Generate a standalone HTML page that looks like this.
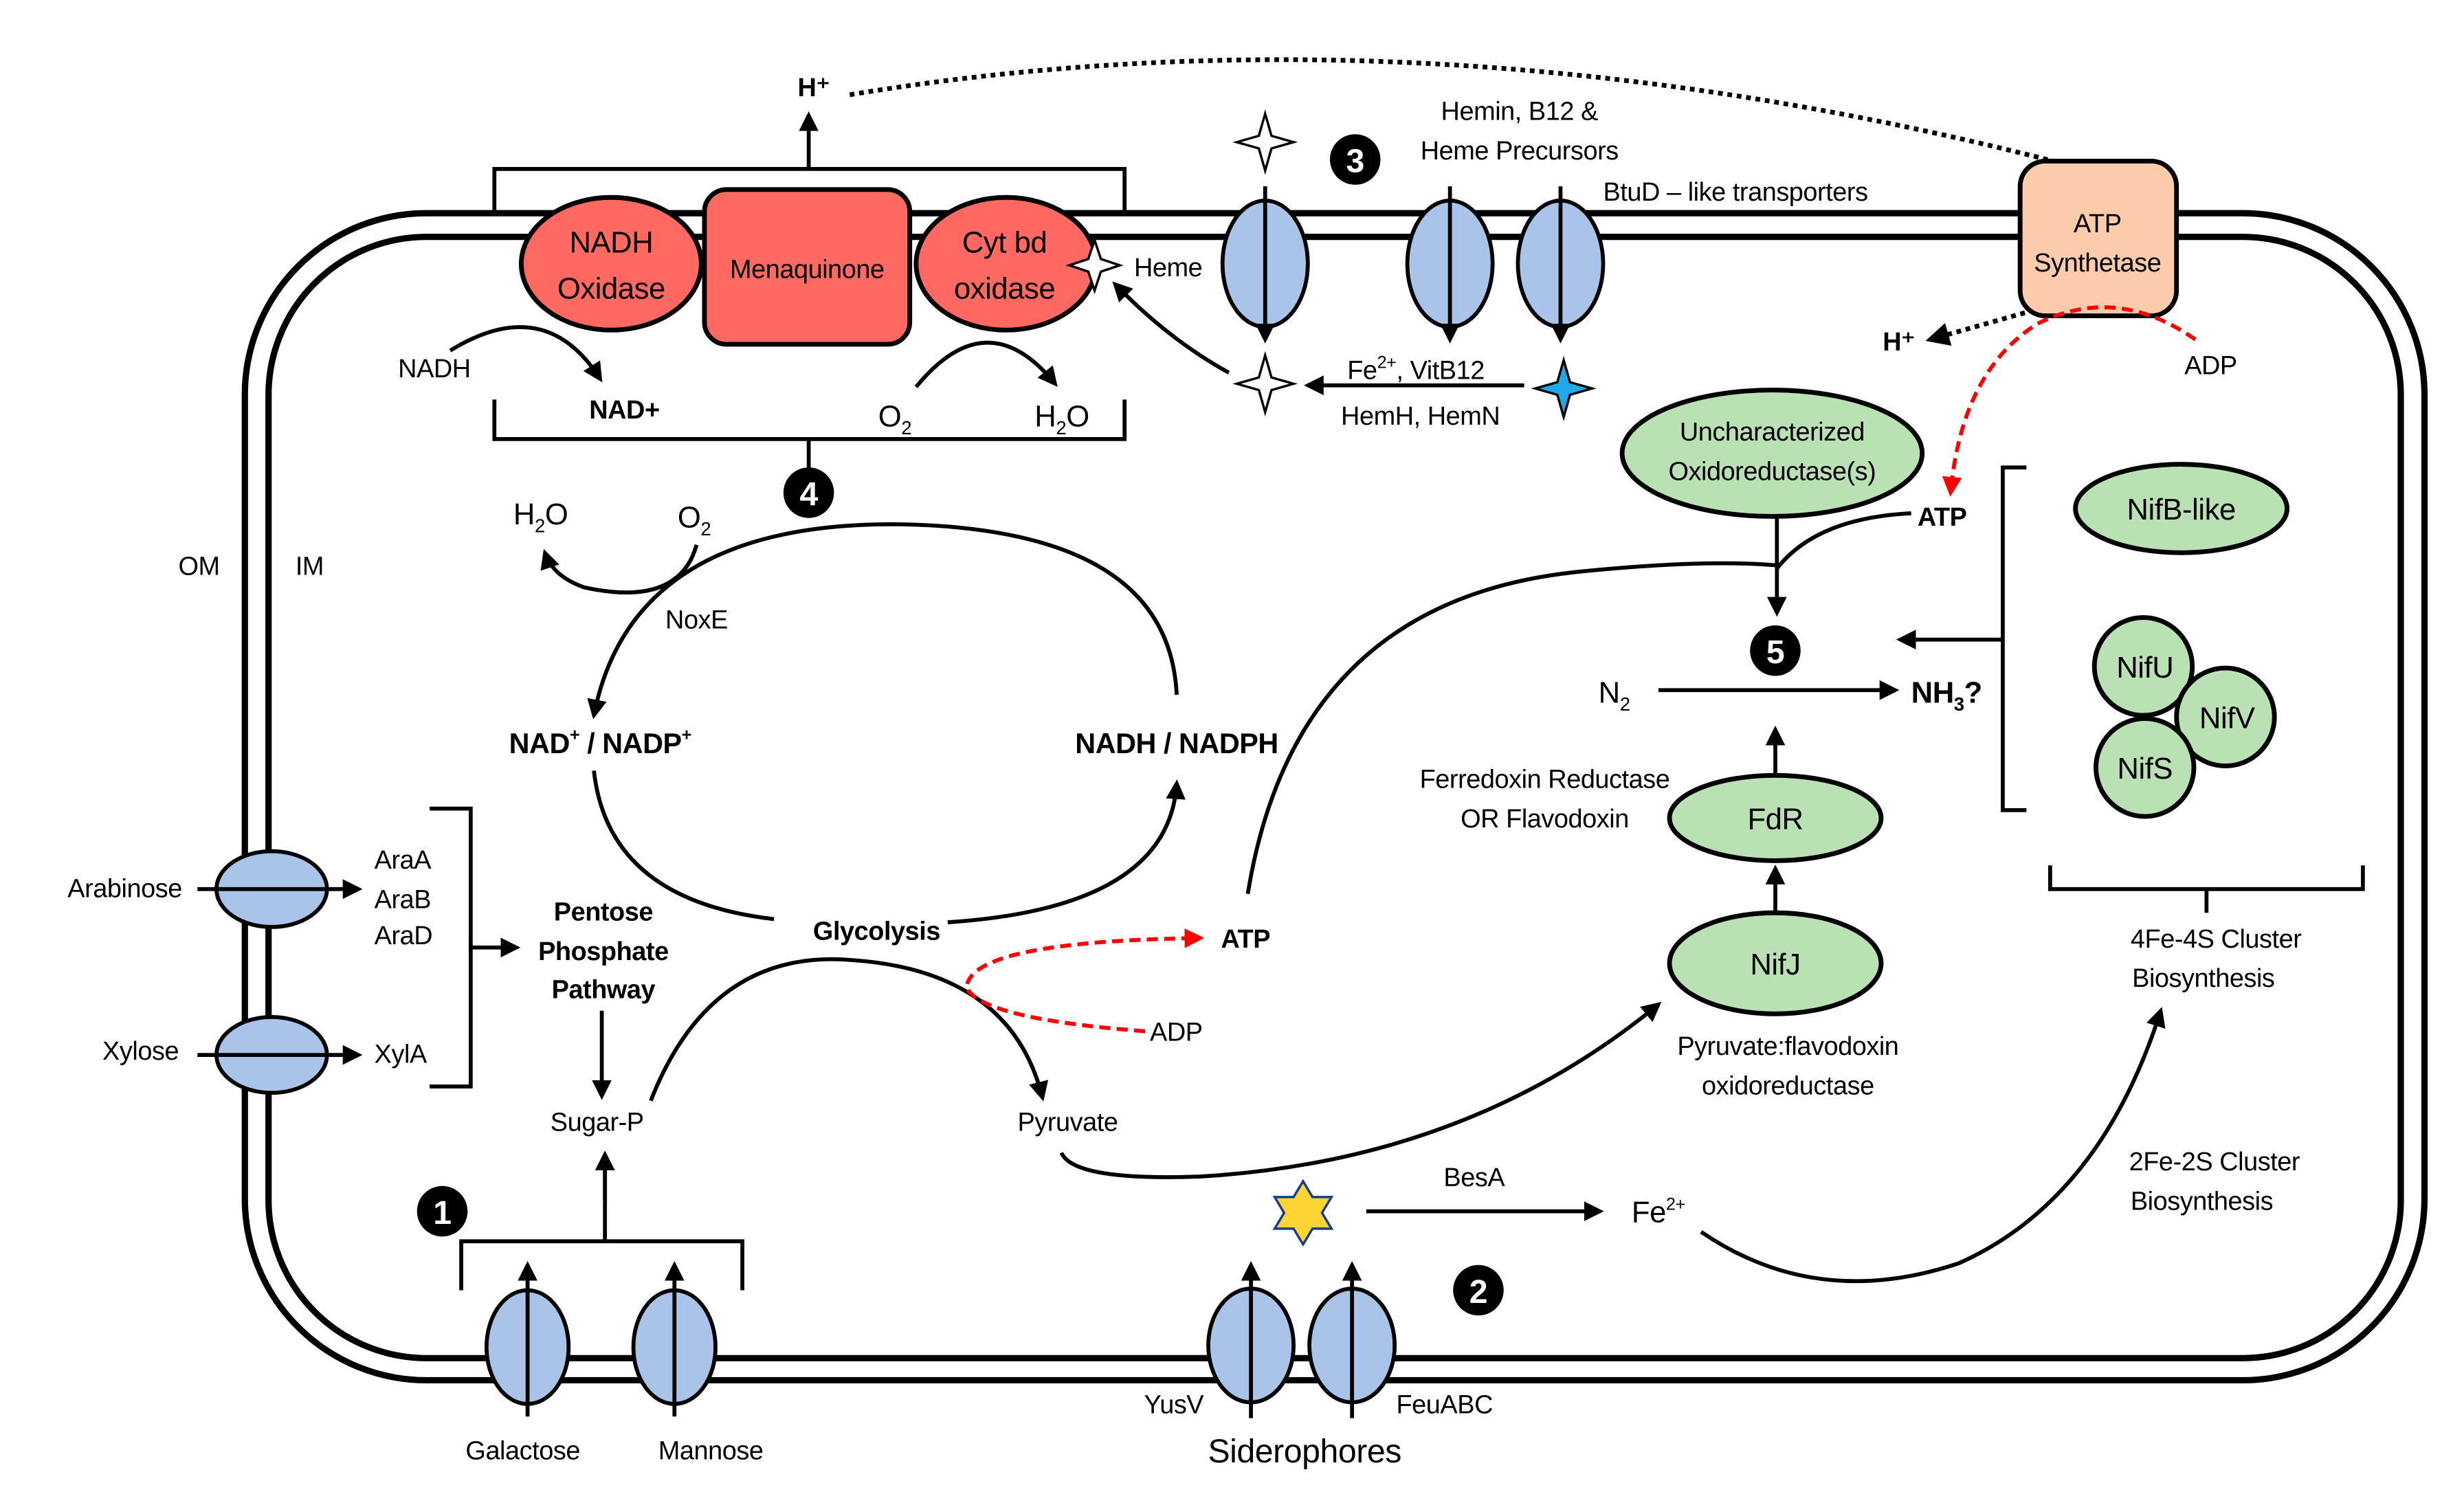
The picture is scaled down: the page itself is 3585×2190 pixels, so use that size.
<!DOCTYPE html>
<html><head><meta charset="utf-8">
<style>
html,body{margin:0;padding:0;background:#fff;}
svg{display:block;}
text{font-family:"Liberation Sans",sans-serif;font-size:16.5px;fill:#000;letter-spacing:-0.2px;}
.b{font-weight:bold;}
</style></head>
<body>
<svg width="3585" height="2190" viewBox="0 0 1560 953" xmlns="http://www.w3.org/2000/svg">
<defs>
<marker id="a" viewBox="0 0 10 10" refX="8" refY="5" markerWidth="5" markerHeight="5" orient="auto-start-reverse"><path d="M0,0L10,5L0,10z" fill="#000"/></marker>
<marker id="r" viewBox="0 0 10 10" refX="8" refY="5" markerWidth="5" markerHeight="5" orient="auto"><path d="M0,0L10,5L0,10z" fill="#f00"/></marker>
</defs>
<rect x="155" y="135" width="1380" height="739" rx="115" fill="none" stroke="#000" stroke-width="4"/>
<rect x="170" y="150" width="1350" height="710" rx="100" fill="none" stroke="#000" stroke-width="4"/>

<path d="M538,60 Q900,0 1300,102" fill="none" stroke="#000" stroke-width="3" stroke-dasharray="3,3"/>
<text x="505" y="61" class="b">H⁺</text>
<line x1="512" y1="107" x2="512" y2="73" stroke="#000" stroke-width="2.5" marker-end="url(#a)"/>
<path d="M313,133V107H712V133" fill="none" stroke="#000" stroke-width="2.5"/>

<ellipse cx="387" cy="167" rx="57" ry="42" fill="#ff6961" stroke="#000" stroke-width="3"/>
<text x="387" y="160" text-anchor="middle" style="font-size:19px">NADH</text>
<text x="387" y="189" text-anchor="middle" style="font-size:19px">Oxidase</text>
<rect x="446" y="120" width="130" height="98" rx="14" fill="#ff6961" stroke="#000" stroke-width="3"/>
<text x="511" y="176" text-anchor="middle">Menaquinone</text>
<ellipse cx="637" cy="167" rx="57" ry="42" fill="#ff6961" stroke="#000" stroke-width="3"/>
<text x="636" y="160" text-anchor="middle" style="font-size:19px">Cyt bd</text>
<text x="636" y="189" text-anchor="middle" style="font-size:19px">oxidase</text>
<path d="M693,152 L697,164 L709,168 L697,172 L693,184 L689,172 L677,168 L689,164Z" fill="#fff" stroke="#000" stroke-width="1.5"/>
<text x="718" y="175">Heme</text>

<text x="252" y="239">NADH</text>
<path d="M285,222 Q345,185 380,240" fill="none" stroke="#000" stroke-width="2.5" marker-end="url(#a)"/>
<text x="373" y="265" class="b">NAD+</text>
<path d="M580,245 Q625,190 668,243" fill="none" stroke="#000" stroke-width="2.5" marker-end="url(#a)"/>
<text x="556" y="270" style="font-size:19px">O<tspan style="font-size:12px" dy="5">2</tspan></text>
<text x="655" y="270" style="font-size:19px">H<tspan style="font-size:12px" dy="5">2</tspan><tspan dy="-5">O</tspan></text>
<path d="M313,253V278H712V253M512,278V297" fill="none" stroke="#000" stroke-width="2.5"/>
<circle cx="512" cy="312" r="16" fill="#000"/><text x="512" y="320" text-anchor="middle" style="fill:#fff;font-size:21px" class="b">4</text>

<g fill="#a9c4e8" stroke="#000" stroke-width="2.5">
<ellipse cx="801" cy="167" rx="27" ry="40"/><ellipse cx="918" cy="167" rx="27" ry="40"/><ellipse cx="988" cy="167" rx="27" ry="40"/>
</g>
<g stroke="#000" stroke-width="2.5">
<line x1="801" y1="118" x2="801" y2="215" marker-end="url(#a)"/>
<line x1="918" y1="118" x2="918" y2="215" marker-end="url(#a)"/>
<line x1="988" y1="118" x2="988" y2="215" marker-end="url(#a)"/>
</g>
<path d="M801,72 L805,86 L819,90 L805,94 L801,108 L797,94 L783,90 L797,86Z" fill="#fff" stroke="#000" stroke-width="1.5"/>
<path d="M801,225 L805,239 L819,243 L805,247 L801,261 L797,247 L783,243 L797,239Z" fill="#fff" stroke="#000" stroke-width="1.5"/>
<path d="M990,228 L994,242 L1008,246 L994,250 L990,264 L986,250 L972,246 L986,242Z" fill="#1ea9e8" stroke="#000" stroke-width="1.5"/>
<circle cx="858" cy="101" r="16" fill="#000"/><text x="858" y="109" text-anchor="middle" style="fill:#fff;font-size:21px" class="b">3</text>
<text x="962" y="76" text-anchor="middle">Hemin, B12 &amp;</text>
<text x="962" y="101" text-anchor="middle">Heme Precursors</text>
<text x="1015" y="127">BtuD – like transporters</text>
<line x1="965" y1="244" x2="828" y2="244" stroke="#000" stroke-width="2.5" marker-end="url(#a)"/>
<text x="853" y="240">Fe<tspan style="font-size:11px" dy="-7">2+</tspan><tspan dy="7">, VitB12</tspan></text>
<text x="849" y="269">HemH, HemN</text>
<path d="M778,236 Q740,215 706,180" fill="none" stroke="#000" stroke-width="2.5" marker-end="url(#a)"/>

<rect x="1279" y="102" width="99" height="98" rx="16" fill="#fccbab" stroke="#000" stroke-width="3"/>
<text x="1328" y="147" text-anchor="middle">ATP</text>
<text x="1328" y="172" text-anchor="middle">Synthetase</text>
<text x="1192" y="222" class="b">H⁺</text>
<line x1="1282" y1="198" x2="1222" y2="215" stroke="#000" stroke-width="3" stroke-dasharray="3,3" marker-end="url(#a)"/>
<path d="M1390,215 Q1340,180 1290,205 Q1242,235 1235,312" fill="none" stroke="#f00" stroke-width="2.5" stroke-dasharray="7,4" marker-end="url(#r)"/>
<text x="1383" y="237">ADP</text>

<ellipse cx="1122" cy="287" rx="95" ry="40" fill="#b9e1b3" stroke="#000" stroke-width="3"/>
<text x="1122" y="279" text-anchor="middle">Uncharacterized</text>
<text x="1122" y="304" text-anchor="middle">Oxidoreductase(s)</text>
<text x="1214" y="333" class="b">ATP</text>
<path d="M1210,325 Q1150,328 1125,360" fill="none" stroke="#000" stroke-width="2.5"/>
<line x1="1125" y1="328" x2="1125" y2="388" stroke="#000" stroke-width="2.5" marker-end="url(#a)"/>
<path d="M790,566 Q820,380 1000,362 Q1080,354 1125,358" fill="none" stroke="#000" stroke-width="2.5"/>
<circle cx="1124" cy="412" r="16" fill="#000"/><text x="1124" y="420" text-anchor="middle" style="fill:#fff;font-size:21px" class="b">5</text>
<text x="1012" y="445" style="font-size:19px">N<tspan style="font-size:12px" dy="5">2</tspan></text>
<line x1="1050" y1="437" x2="1200" y2="437" stroke="#000" stroke-width="2.5" marker-end="url(#a)"/>
<text x="1210" y="445" class="b" style="font-size:19px">NH<tspan style="font-size:12px" dy="5">3</tspan><tspan dy="-5">?</tspan></text>
<ellipse cx="1124" cy="518" rx="67" ry="27" fill="#b9e1b3" stroke="#000" stroke-width="3"/>
<text x="1124" y="525" text-anchor="middle" style="font-size:19px">FdR</text>
<line x1="1124" y1="490" x2="1124" y2="462" stroke="#000" stroke-width="2.5" marker-end="url(#a)"/>
<text x="978" y="499" text-anchor="middle">Ferredoxin Reductase</text>
<text x="978" y="524" text-anchor="middle">OR Flavodoxin</text>
<ellipse cx="1124" cy="610" rx="67" ry="32" fill="#b9e1b3" stroke="#000" stroke-width="3"/>
<text x="1124" y="617" text-anchor="middle" style="font-size:19px">NifJ</text>
<line x1="1124" y1="577" x2="1124" y2="550" stroke="#000" stroke-width="2.5" marker-end="url(#a)"/>
<text x="1132" y="668" text-anchor="middle">Pyruvate:flavodoxin</text>
<text x="1132" y="693" text-anchor="middle">oxidoreductase</text>

<path d="M1283,296H1268V513H1283" fill="none" stroke="#000" stroke-width="2.5"/>
<line x1="1268" y1="405" x2="1203" y2="405" stroke="#000" stroke-width="2.5" marker-end="url(#a)"/>
<ellipse cx="1381" cy="322" rx="67" ry="28" fill="#b9e1b3" stroke="#000" stroke-width="3"/>
<text x="1381" y="329" text-anchor="middle" style="font-size:19px">NifB-like</text>
<circle cx="1357" cy="422" r="31" fill="#b9e1b3" stroke="#000" stroke-width="3"/>
<circle cx="1409" cy="454" r="31" fill="#b9e1b3" stroke="#000" stroke-width="3"/>
<circle cx="1358" cy="486" r="31" fill="#b9e1b3" stroke="#000" stroke-width="3"/>
<text x="1358" y="429" text-anchor="middle" style="font-size:19px">NifU</text>
<text x="1410" y="461" text-anchor="middle" style="font-size:19px">NifV</text>
<text x="1358" y="493" text-anchor="middle" style="font-size:19px">NifS</text>
<path d="M1298,548V563H1496V548M1397,563V578" fill="none" stroke="#000" stroke-width="2.5"/>
<text x="1403" y="600" text-anchor="middle">4Fe-4S Cluster</text>
<text x="1395" y="625" text-anchor="middle">Biosynthesis</text>
<text x="1402" y="741" text-anchor="middle">2Fe-2S Cluster</text>
<text x="1394" y="766" text-anchor="middle">Biosynthesis</text>
<path d="M1077,780 Q1150,830 1240,800 Q1330,760 1368,640" fill="none" stroke="#000" stroke-width="2.5" marker-end="url(#a)"/>

<path d="M825,748 L831,758 L843,758 L837,768 L843,778 L831,778 L825,788 L819,778 L807,778 L813,768 L807,758 L819,758Z" fill="#fcd535" stroke="#1a3c8c" stroke-width="1.5"/>
<text x="914" y="751">BesA</text>
<line x1="865" y1="767" x2="1013" y2="767" stroke="#000" stroke-width="2.5" marker-end="url(#a)"/>
<text x="1033" y="774" style="font-size:19px">Fe<tspan style="font-size:11px" dy="-8">2+</tspan></text>
<circle cx="936" cy="817" r="16" fill="#000"/><text x="936" y="825" text-anchor="middle" style="fill:#fff;font-size:21px" class="b">2</text>
<g fill="#a9c4e8" stroke="#000" stroke-width="2.5">
<ellipse cx="792" cy="852" rx="27" ry="36"/><ellipse cx="856" cy="852" rx="27" ry="36"/>
<ellipse cx="334" cy="853" rx="26" ry="36"/><ellipse cx="427" cy="853" rx="26" ry="36"/>
<ellipse cx="172" cy="563" rx="35" ry="24"/><ellipse cx="172" cy="668" rx="35" ry="24"/>
</g>
<g stroke="#000" stroke-width="2.5">
<line x1="792" y1="898" x2="792" y2="801" marker-end="url(#a)"/>
<line x1="856" y1="898" x2="856" y2="801" marker-end="url(#a)"/>
<line x1="334" y1="897" x2="334" y2="801" marker-end="url(#a)"/>
<line x1="427" y1="897" x2="427" y2="801" marker-end="url(#a)"/>
<line x1="125" y1="563" x2="227" y2="563" marker-end="url(#a)"/>
<line x1="125" y1="668" x2="227" y2="668" marker-end="url(#a)"/>
</g>
<text x="762" y="895" text-anchor="end">YusV</text>
<text x="884" y="895">FeuABC</text>
<text x="826" y="926" text-anchor="middle" style="font-size:21px">Siderophores</text>

<path d="M292,817V786H470V817M383,786V733" fill="none" stroke="#000" stroke-width="2.5"/>
<line x1="383" y1="760" x2="383" y2="731" stroke="#000" stroke-width="2.5" marker-end="url(#a)"/>
<circle cx="280" cy="767" r="16" fill="#000"/><text x="280" y="775" text-anchor="middle" style="fill:#fff;font-size:21px" class="b">1</text>
<text x="331" y="924" text-anchor="middle">Galactose</text>
<text x="450" y="924" text-anchor="middle">Mannose</text>
<text x="378" y="716" text-anchor="middle">Sugar-P</text>
<line x1="381" y1="640" x2="381" y2="694" stroke="#000" stroke-width="2.5" marker-end="url(#a)"/>
<text x="382" y="583" text-anchor="middle" class="b">Pentose</text>
<text x="382" y="608" text-anchor="middle" class="b">Phosphate</text>
<text x="382" y="632" text-anchor="middle" class="b">Pathway</text>
<text x="79" y="568" text-anchor="middle">Arabinose</text>
<text x="89" y="671" text-anchor="middle">Xylose</text>
<text x="237" y="550">AraA</text><text x="237" y="575">AraB</text><text x="237" y="598">AraD</text><text x="237" y="673">XylA</text>
<path d="M272,512H298V688H272" fill="none" stroke="#000" stroke-width="2.5"/>
<line x1="298" y1="600" x2="327" y2="600" stroke="#000" stroke-width="2.5" marker-end="url(#a)"/>
<text x="126" y="364" text-anchor="middle">OM</text>
<text x="196" y="364" text-anchor="middle">IM</text>

<path d="M376,488 Q385,570 490,582" fill="none" stroke="#000" stroke-width="2.5"/>
<path d="M600,584 Q740,575 745,496" fill="none" stroke="#000" stroke-width="2.5" marker-end="url(#a)"/>
<path d="M745,440 Q740,335 570,332 Q400,330 376,453" fill="none" stroke="#000" stroke-width="2.5" marker-end="url(#a)"/>
<text x="380" y="477" text-anchor="middle" class="b" style="font-size:18px">NAD<tspan style="font-size:11px" dy="-8">+</tspan><tspan dy="8"> / NADP</tspan><tspan style="font-size:11px" dy="-8">+</tspan></text>
<text x="745" y="477" text-anchor="middle" class="b" style="font-size:18px">NADH / NADPH</text>
<text x="555" y="595" text-anchor="middle" class="b">Glycolysis</text>
<text x="325" y="332" style="font-size:19px">H<tspan style="font-size:12px" dy="5">2</tspan><tspan dy="-5">O</tspan></text>
<text x="429" y="334" style="font-size:19px">O<tspan style="font-size:12px" dy="5">2</tspan></text>
<path d="M441,345 Q430,385 370,372 Q350,365 345,350" fill="none" stroke="#000" stroke-width="2.5" marker-end="url(#a)"/>
<text x="441" y="398" text-anchor="middle">NoxE</text>
<path d="M412,697 Q450,600 540,608 Q640,615 660,695" fill="none" stroke="#000" stroke-width="2.5" marker-end="url(#a)"/>
<text x="676" y="716" text-anchor="middle">Pyruvate</text>
<path d="M725,653 Q620,645 612,625 Q615,596 760,594" fill="none" stroke="#f00" stroke-width="2.5" stroke-dasharray="7,4" marker-end="url(#r)"/>
<text x="773" y="600" class="b">ATP</text>
<text x="728" y="659">ADP</text>
<path d="M672,730 Q680,748 760,745 Q930,735 1050,636" fill="none" stroke="#000" stroke-width="2.5" marker-end="url(#a)"/>
</svg>
</body></html>
